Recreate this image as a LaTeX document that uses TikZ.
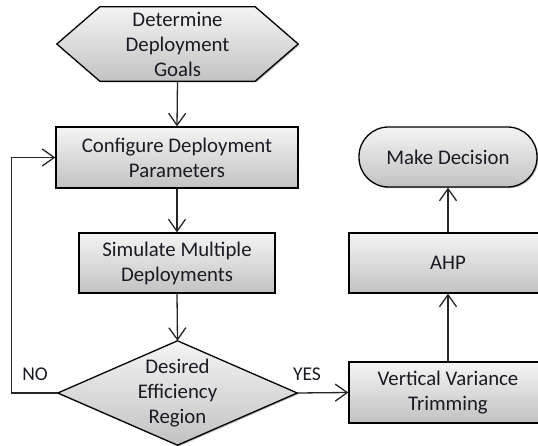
\documentclass[tikz,border=0pt]{standalone}
\usepackage{fontspec}
\setmainfont{Carlito}
\usetikzlibrary{arrows.meta,shadows,backgrounds}
\definecolor{boxtop}{HTML}{F4F4F4}
\definecolor{boxbot}{HTML}{C2C2C2}
\definecolor{ink}{HTML}{1A1A24}
\begin{document}
\begin{tikzpicture}[x=1pt,y=-1pt,
  txt/.style={font=\fontsize{20.8}{25}\selectfont, text=ink, align=center, inner sep=0pt},
  shape fill/.style={draw=black, line width=1.3pt, top color=boxtop, bottom color=boxbot,
    drop shadow={shadow xshift=1.2pt, shadow yshift=-1.2pt, fill=black, opacity=0.3}},
  box/.style={txt, shape fill},
  flow/.style={draw=black!85, line width=1.3pt, -{Straight Barb[length=12pt,width=17pt]}},
  lbl/.style={font=\fontsize{19.5}{22}\selectfont, text=ink}
]
\useasboundingbox (0,0) rectangle (538,446);

% left column
\node[txt, minimum width=155pt, minimum height=74pt] (goals) at (177.5,44) {Determine\\Deployment\\Goals};
\node[box, minimum width=242pt, minimum height=61pt] (config) at (177,157.5) {Configure Deployment\\Parameters};
\node[box, minimum width=196pt, minimum height=60pt] (sim) at (177,263) {Simulate Multiple\\Deployments};
\node[txt, minimum width=239pt, minimum height=104pt] (dec) at (177.5,393) {Desired\\Efficiency\\Region};

% right column
\node[box, rounded corners=29.5pt, minimum width=178pt, minimum height=60pt] (md) at (448,157) {Make Decision};
\node[box, minimum width=198pt, minimum height=60pt] (ahp) at (448,263) {AHP};
\node[box, minimum width=198pt, minimum height=61pt] (vvt) at (448,392.5) {Vertical Variance\\Trimming};

% hexagon and decision diamond behind their text
\begin{scope}[on background layer]
  \path[shape fill] (goals.north west) -- (goals.north east) -- ([xshift=43pt]goals.east)
    -- (goals.south east) -- (goals.south west) -- ([xshift=-43pt]goals.west) -- cycle;
  \path[shape fill] (dec.north) -- (dec.east) -- (dec.south) -- (dec.west) -- cycle;
\end{scope}

% connectors
\draw[flow] (goals.south) -- (config.north);
\draw[flow] (config.south) -- (sim.north);
\draw[flow] (sim.south) -- (dec.north);
\draw[flow] (dec.west) -- ++(-46,0) |- (config.west);
\draw[flow] (dec.east) -- (vvt.west);
\draw[flow] (vvt.north) -- (ahp.south);
\draw[flow] (ahp.north) -- (md.south);

\node[lbl] (no) at (35,374) {NO};
\node[lbl] (yes) at (307,374) {YES};
\end{tikzpicture}
\end{document}
